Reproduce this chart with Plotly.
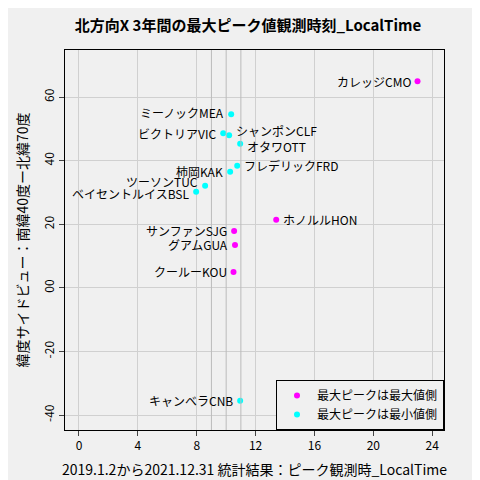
import plotly.graph_objects as go

names = ["カレッジCMO", "ミーノックMEA", "ビクトリアVIC", "シャンポンCLF", "オタワOTT",
         "フレデリックFRD", "柿岡KAK", "ツーソンTUC", "ベイセントルイスBSL", "ホノルルHON",
         "サンファンSJG", "グアムGUA", "クールーKOU", "キャンベラCNB"]
hours = [23.0, 10.34, 9.8, 10.2, 10.95, 10.75, 10.27, 8.57, 7.96, 13.4, 10.54, 10.6, 10.5, 10.95]
lats = [65.0, 54.6, 48.6, 48.0, 45.3, 38.4, 36.5, 32.1, 30.2, 21.4, 17.9, 13.5, 5.0, -35.5]
is_max = [1, 0, 0, 0, 0, 0, 0, 0, 0, 1, 1, 1, 1, 0]
label_pos = ["left", "left", "left", "right", "right", "right", "left", "left", "left",
             "right", "left", "left", "left", "left"]
label_dy = [0, 2, 0, 5, -3, 0, 0, 4, -2, 0, 0, 0, 0, 0]
xticks = [0, 4, 8, 12, 16, 20, 24]
yticks = [-40, -20, 0, 20, 40, 60]
ytext = ["-40", "-20", "00", "20", "40", "60"]
extra_x = [9, 10, 11]

fig = go.Figure()
for flag, nm, col in [(1, "最大ピークは最大値側", "magenta"), (0, "最大ピークは最小値側", "cyan")]:
    idx = [i for i in range(len(names)) if is_max[i] == flag]
    fig.add_trace(go.Scatter(
        x=[hours[i] for i in idx], y=[lats[i] for i in idx], mode="markers", name=nm,
        marker=dict(color=col, size=6), cliponaxis=False))
    for i in idx:
        fig.add_annotation(x=hours[i], y=lats[i], text=names[i], showarrow=False,
                           xanchor="right" if label_pos[i] == "left" else "left",
                           xshift=-5 if label_pos[i] == "left" else 5, yshift=label_dy[i],
                           font=dict(size=12, color="black"))
for v in extra_x:
    fig.add_vline(x=v, line=dict(color="#bbbbbb", width=1))

fig.update_layout(
    width=480, height=480, paper_bgcolor="#f0f0f0", plot_bgcolor="#f0f0f0",
    font=dict(family="Noto Sans CJK JP, DejaVu Sans", size=12, color="black"),
    title=dict(text="<b>北方向X 3年間の最大ピーク値観測時刻_LocalTime</b>", x=0.5, y=0.975, font=dict(size=15)),
    margin=dict(l=57, r=44, t=42, b=58, autoexpand=False),
    legend=dict(x=1, y=0, xanchor="right", yanchor="bottom", bgcolor="#f0f0f0",
                bordercolor="black", borderwidth=1, font=dict(size=12)),
    xaxis=dict(range=[-0.95, 24.8], tickvals=xticks, showgrid=True, gridcolor="#d0d0d0",
               zeroline=False, showline=True, mirror=True, linecolor="black", ticks="outside",
               automargin=False,
               title=dict(text="2019.1.2から2021.12.31 統計結果：ピーク観測時_LocalTime",
                          font=dict(size=14), standoff=12)),
    yaxis=dict(range=[-44.7, 74.8], tickvals=yticks, ticktext=ytext, tickangle=-90,
               showgrid=True, gridcolor="#d0d0d0", zeroline=False, showline=True, mirror=True,
               linecolor="black", ticks="outside", automargin=False,
               title=dict(text="緯度サイドビュー：南緯40度ー北緯70度", font=dict(size=14), standoff=8)),
)
fig.write_html("out.html")
